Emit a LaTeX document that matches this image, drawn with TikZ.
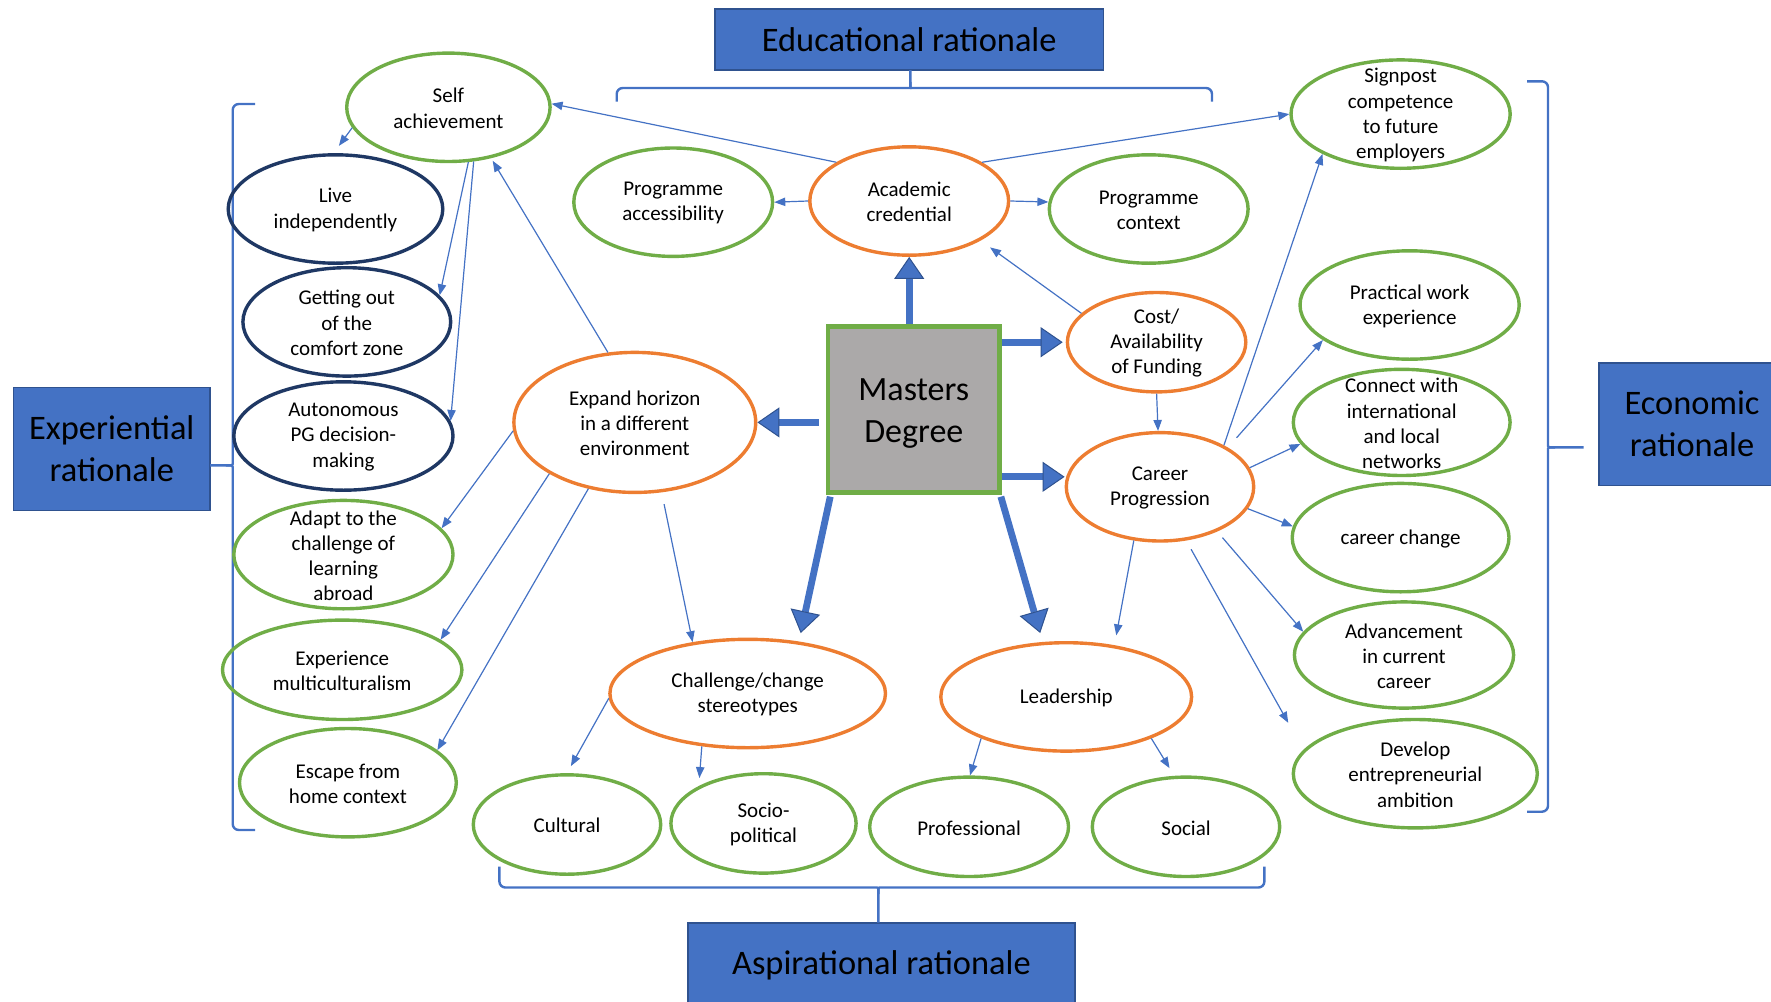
\documentclass[tikz,border=0pt]{standalone}
\usepackage{fontspec}
\setmainfont{Carlito}
\usetikzlibrary{shapes.geometric,arrows.meta}
\definecolor{cgreen}{HTML}{70AD47}
\definecolor{corange}{HTML}{ED7D31}
\definecolor{cnavy}{HTML}{1F3864}
\definecolor{cblue}{HTML}{4472C4}
\definecolor{cbluedk}{HTML}{2F528F}
\definecolor{cgray}{HTML}{ABA9A9}
\begin{document}
\begin{tikzpicture}[x=0.5pt,y=-0.5pt,
  oval/.style={ellipse,draw=#1,line width=1.7pt,inner sep=0pt},
  lab/.style={align=center,inner sep=0pt,font=\fontsize{10.5}{12.6}\selectfont,text=black,yshift=-0.5pt},
  thin/.style={draw=cblue,line width=0.6pt,-{Triangle[length=5.5pt,width=4.2pt]}},
  big/.style={draw=cblue,line width=3.4pt,-{Triangle[length=11pt,width=15pt,line width=0.5pt,color=cbluedk,fill=cblue]}},
  brace/.style={draw=cblue,line width=1.2pt,rounded corners=3pt},
  title/.style={draw=cbluedk,fill=cblue,line width=0.8pt,inner sep=0pt,align=center,
    font=\fontsize{17.2}{21}\selectfont,text=black},
]
\useasboundingbox (0,0) rectangle (1771,1001);

% rationale boxes
\node[title,minimum width=194.25pt,minimum height=30.5pt] (edu) at (909.2,39.5) {Educational rationale};
\node[title,minimum width=98.2pt,minimum height=61.5pt] (exper) at (111.8,449) {Experiential\\rationale};
\node[title,minimum width=93pt,minimum height=61.2pt] (econ) at (1692,424.2) {Economic\\rationale};
\node[title,minimum width=193.6pt,minimum height=42.3pt] (aspir) at (881.4,965) {Aspirational rationale};

% braces grouping the motives
\draw[brace] (616.7,101.7) |- (904,88) .. controls (910.4,88) .. (910.4,82) -- (910.4,70);
\draw[brace] (910.4,82) .. controls (910.4,88) .. (917,88) -| (1212,101.7);
\draw[brace] (255,104) -| (232.7,458) .. controls (232.7,465.4) .. (226,465.4) -- (210,465.4);
\draw[brace] (226,465.4) .. controls (232.7,465.4) .. (232.7,473) |- (255,830);
\draw[brace] (1527,81.3) -| (1548,440) .. controls (1548,447.3) .. (1555,447.3) -- (1583.6,447.3);
\draw[brace] (1555,447.3) .. controls (1548,447.3) .. (1548,454.6) |- (1527,811.7);
\draw[brace] (499.4,866.7) |- (871,887.5) .. controls (878.3,887.5) .. (878.3,894) -- (878.3,922.7);
\draw[brace] (878.3,894) .. controls (878.3,887.5) .. (885.6,887.5) -| (1264.4,866.7);

% central box
\node[draw=cgreen,fill=cgray,line width=2.25pt,minimum width=85.8pt,minimum height=83pt,inner sep=0pt,
  label={[align=center,inner sep=0pt,font=\fontsize{17}{21}\selectfont,yshift=-2.2pt]center:{Masters\\Degree}}]
  (master) at (913.8,409.4) {};

% motives
\node[oval=cgreen,minimum width=101.7pt,minimum height=54.2pt,label={[lab]center:{Self\\achievement}}] (selfach) at (448.4,107.3) {};
\node[oval=cnavy,minimum width=107.3pt,minimum height=54.2pt,label={[lab]center:{Live\\independently}}] (liveind) at (335.5,209) {};
\node[oval=cnavy,minimum width=103.9pt,minimum height=54.2pt,label={[lab]center:{Getting out\\of the\\comfort zone}}] (comfort) at (346.8,321.9) {};
\node[oval=cnavy,minimum width=109.6pt,minimum height=54.2pt,label={[lab]center:{Autonomous\\PG decision-\\making}}] (autonom) at (343.4,436) {};
\node[oval=cgreen,minimum width=109.6pt,minimum height=54.2pt,label={[lab]center:{Adapt to the\\challenge of\\learning\\abroad}}] (adapt) at (343.4,554.6) {};
\node[oval=cgreen,minimum width=119.7pt,minimum height=49.7pt,label={[lab]center:{Experience\\multiculturalism}}] (multi) at (342.2,669.8) {};
\node[oval=cgreen,minimum width=108.4pt,minimum height=54.2pt,label={[lab]center:{Escape from\\home context}}] (escape) at (347.9,782.7) {};
\node[oval=cgreen,minimum width=99.4pt,minimum height=54.2pt,label={[lab]center:{Programme\\accessibility}}] (progacc) at (673.2,202.2) {};
\node[oval=corange,minimum width=99.4pt,minimum height=54.2pt,label={[lab]center:{Academic\\credential}}] (academic) at (909.2,201) {};
\node[oval=cgreen,minimum width=99.4pt,minimum height=54.2pt,label={[lab]center:{Programme\\context}}] (progctx) at (1148.7,209) {};
\node[oval=cgreen,minimum width=109.6pt,minimum height=54.2pt,label={[lab]center:{Signpost\\competence\\to future\\employers}}] (signpost) at (1400.6,114.1) {};
\node[oval=corange,minimum width=89.2pt,minimum height=49.7pt,label={[lab]center:{Cost/\\Availability\\of Funding}}] (cost) at (1156.6,342.2) {};
\node[oval=cgreen,minimum width=109.6pt,minimum height=54.2pt,label={[lab]center:{Practical work\\experience}}] (practical) at (1409.6,305) {};
\node[oval=cgreen,minimum width=108.4pt,minimum height=53.1pt,label={[lab]center:{Connect with\\international\\and local\\networks}}] (connect) at (1401.7,422.4) {};
\node[oval=corange,minimum width=93.7pt,minimum height=54.2pt,label={[lab]center:{Career\\Progression}}] (career) at (1160,486.8) {};
\node[oval=cgreen,minimum width=108.4pt,minimum height=54.2pt,label={[lab]center:{career change}}] (change) at (1400.6,537.6) {};
\node[oval=cgreen,minimum width=109.6pt,minimum height=53.1pt,label={[lab]center:{Advancement\\in current\\career}}] (advance) at (1404,655) {};
\node[oval=cgreen,minimum width=122pt,minimum height=54.2pt,label={[lab]center:{Develop\\entrepreneurial\\ambition}}] (develop) at (1415.3,773.7) {};
\node[oval=corange,minimum width=120.9pt,minimum height=70pt,label={[lab]center:{Expand horizon\\in a different\\environment}}] (expand) at (634.8,422.4) {};
\node[oval=corange,minimum width=137.8pt,minimum height=54.2pt,label={[lab]center:{Challenge/change\\stereotypes}}] (stereo) at (747.7,693.5) {};
\node[oval=corange,minimum width=125.4pt,minimum height=54.2pt,label={[lab]center:{Leadership}}] (leader) at (1066.2,696.9) {};
\node[oval=cgreen,minimum width=93.7pt,minimum height=49.7pt,label={[lab]center:{Cultural}}] (cultural) at (567,824.5) {};
\node[oval=cgreen,minimum width=92.6pt,minimum height=49.7pt,label={[lab]center:{Socio-\\political}}] (socio) at (763.5,823.4) {};
\node[oval=cgreen,minimum width=99.4pt,minimum height=49.7pt,label={[lab]center:{Professional}}] (profess) at (969.1,826.8) {};
\node[oval=cgreen,minimum width=93.7pt,minimum height=49.7pt,label={[lab]center:{Social}}] (social) at (1186,826.8) {};

% main outward arrows
\coordinate (cw) at ([yshift=5pt]career.west);
\draw[big] (academic.south |- master.north) -- (academic.south);
\draw[big,shorten <=3.5pt] (master.west |- expand.east) -- (expand.east);
\draw[big,shorten >=1.5pt] (cost.west -| master.east) -- (cost.west);
\draw[big] (cw -| master.east) -- (cw);
\draw[big] ([shift={(4.5,2)}]master.south west) -- ([shift={(53,-4.5)}]stereo.north);
\draw[big] ([shift={(-1,2)}]master.south east) -- ([shift={(-26,-8)}]leader.north);

% links between motives
\draw[thin] (academic.152) -- (selfach.2);
\draw[thin] (academic.28) -- (signpost.180);
\draw[thin] (academic.180) -- (progacc.0);
\draw[thin] (academic.0) -- (progctx.176);
\draw[thin,shorten >=5.8pt] (cost.159) -- (academic.331);
\draw[thin] (cost.270) -- (career.92);
\draw[thin,shorten >=4.5pt] (selfach.192) -- (liveind.92);
\draw[thin] (selfach.290) -- (comfort.16);
\draw[thin] (selfach.295) -- (autonom.8);
\draw[thin,shorten >=1.5pt] (expand.111) -- (selfach.310);
\draw[thin] (expand.184) -- (adapt.15);
\draw[thin] (expand.211) -- (multi.17);
\draw[thin] (expand.235) -- (escape.20);
\draw[thin,shorten <=6pt] (expand.291) -- (stereo.137);
\draw[thin,shorten >=4pt] (stereo.182) -- (cultural.90);
\draw[thin,shorten >=4pt] (stereo.229) -- (socio.150);
\draw[thin] (leader.206) -- (profess.89);
\draw[thin,shorten >=4.5pt] (leader.334) -- (social.103);
\draw[thin] (career.33) -- (signpost.207);
\draw[thin,shorten <=6.5pt] (career.30) -- (practical.202);
\draw[thin] (career.12) -- (connect.192);
\draw[thin] (career.346) -- (change.174);
\draw[thin,shorten <=4pt] (career.322) -- (advance.167);
\draw[thin,shorten <=5pt,shorten >=15.5pt] (career.296) -- (develop.168);
\draw[thin,shorten >=5pt] (career.244) -- (leader.47);
\end{tikzpicture}
\end{document}
